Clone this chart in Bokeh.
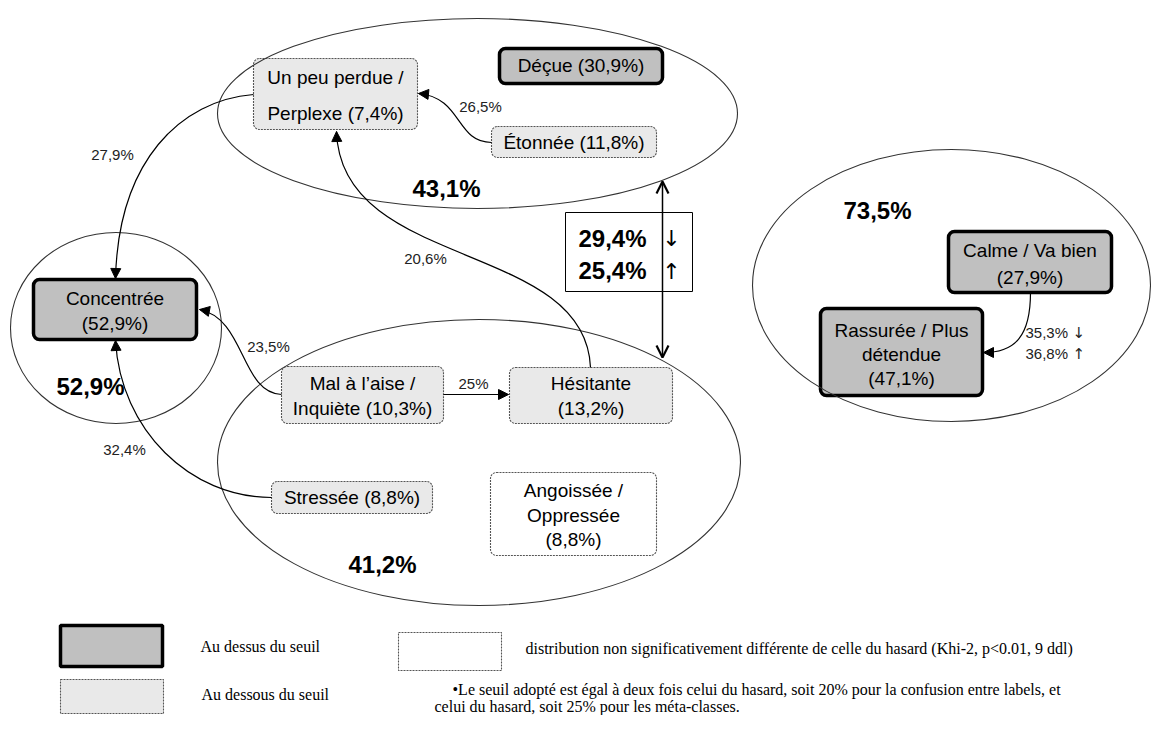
from bokeh.plotting import figure
from bokeh.models import Range1d, BoxAnnotation, Arrow, NormalHead, OpenHead
from bokeh.core.properties import value
from bokeh.embed import file_html
from bokeh.resources import INLINE

# ---------------- data ----------------
emotion_keys = ["perplexe", "decue", "etonnee", "concentree", "mal", "hesitante",
                "stressee", "angoissee", "calme", "rassuree"]
emotion_pct = [7.4, 30.9, 11.8, 52.9, 10.3, 13.2, 8.8, 8.8, 27.9, 47.1]
emotion_class = ["below", "above", "below", "above", "below", "below",
                 "below", "ns", "above", "above"]
emotion_lines = [
    ["Un peu perdue /", "Perplexe ({p})"],
    ["Déçue ({p})"],
    ["Étonnée ({p})"],
    ["Concentrée", "({p})"],
    ["Mal à l’aise /", "Inquiète ({p})"],
    ["Hésitante", "({p})"],
    ["Stressée ({p})"],
    ["Angoissée /", "Oppressée", "({p})"],
    ["Calme / Va bien", "({p})"],
    ["Rassurée / Plus", "détendue", "({p})"],
]

meta_keys = ["haut", "gauche", "bas", "droite"]
meta_pct = [43.1, 52.9, 41.2, 73.5]

trans_from = ["etonnee", "perplexe", "hesitante", "mal", "mal", "stressee"]
trans_to = ["perplexe", "concentree", "perplexe", "concentree", "hesitante", "concentree"]
trans_pct = [26.5, 27.9, 20.6, 23.5, 25.0, 32.4]

calme_rassuree_pct = [35.3, 36.8]      # down, up
meta_haut_bas_pct = [29.4, 25.4]       # down, up

legend_labels = ["Au  dessus du seuil", "Au dessous du seuil",
                 "distribution non significativement différente de celle du hasard (Khi-2, p<0.01, 9 ddl)"]
note_lines = ["•Le seuil adopté est égal à deux fois celui du hasard, soit 20% pour la confusion entre labels, et",
              "celui du hasard, soit  25% pour les méta-classes."]


def fmt(v):
    if abs(v - round(v)) < 1e-9:
        return "%d%%" % round(v)
    return ("%.1f" % v).replace(".", ",") + "%"


# ---------------- layout (page pixels) ----------------
box_lrtb = {
    "perplexe": (253, 417, 58, 129),
    "decue": (499, 662, 48, 83),
    "etonnee": (491, 656, 126, 157),
    "concentree": (33, 196, 279, 339),
    "mal": (281, 443, 366, 423),
    "hesitante": (509, 672, 367, 423),
    "stressee": (271, 432, 481, 513),
    "angoissee": (490, 656, 472, 555),
    "calme": (948, 1111, 231, 292),
    "rassuree": (820, 982, 308, 395),
}
line_y = {
    "perplexe": [77, 113],
    "decue": [65],
    "etonnee": [142],
    "concentree": [298, 323],
    "mal": [383, 408],
    "hesitante": [383, 408],
    "stressee": [497],
    "angoissee": [490, 515, 539],
    "calme": [250, 277],
    "rassuree": [330, 354, 378],
}
ellipse_geom = {
    "haut": (477, 113, 520, 190),
    "gauche": (115.5, 327.5, 211, 191),
    "bas": (478.5, 462, 523, 286),
    "droite": (951, 285, 398, 272),
}
meta_label_xy = {"haut": (446, 188), "gauche": (90, 386), "bas": (382, 564), "droite": (877, 210)}

curve_pts = [
    ((491, 142), (455, 142), (462, 97), (418, 93)),
    ((253, 94), (180, 100), (118, 160), (115, 278)),
    ((590, 367), (585, 240), (340, 270), (336, 131)),
    ((281, 394), (240, 392), (245, 318), (199, 309)),
    ((443, 394), (470, 394), (490, 394), (508, 394)),
    ((271, 497), (190, 497), (120, 430), (115, 340)),
]
trans_label_xy = [(480, 106), (112, 154), (425, 258), (268, 346), (473, 383), (124, 449)]
calme_curve = ((1030, 292), (1030, 335), (1015, 352), (983, 352))

W, H = 1152, 715
p = figure(width=W, height=H, output_backend="svg", toolbar_location=None,
           x_range=Range1d(0, W), y_range=Range1d(H, 0),
           min_border=0, min_border_left=0, min_border_right=0,
           min_border_top=0, min_border_bottom=0)
p.axis.visible = False
p.xgrid.visible = False
p.ygrid.visible = False
p.outline_line_color = None
p.background_fill_color = "white"
p.border_fill_color = "white"

SANS = value("Liberation Sans")
SERIF = value("Liberation Serif")
ARROWF = value("DejaVu Sans")

# meta-class ellipses
for k in meta_keys:
    cx, cy, w, h = ellipse_geom[k]
    p.ellipse(x=[cx], y=[cy], width=[w], height=[h], fill_alpha=0,
              line_color="#333333", line_width=1.1)

styles = {
    "above": dict(fill_color="#c0c0c0", line_color="black", line_width=3.5, line_dash="solid"),
    "below": dict(fill_color="#e9e9e9", line_color="#555555", line_width=1.1, line_dash="2 1"),
    "ns": dict(fill_color="white", line_color="#555555", line_width=1.1, line_dash="2 1"),
}


def box(l, r, t, b, radius, style):
    p.add_layout(BoxAnnotation(left=l, right=r, top=t, bottom=b, border_radius=radius,
                               fill_alpha=1, line_alpha=1, level="underlay", **style))


# emotion boxes + labels
for key, pct, cls, lines in zip(emotion_keys, emotion_pct, emotion_class, emotion_lines):
    l, r, t, b = box_lrtb[key]
    box(l, r, t, b, 6, styles[cls])
    cx = (l + r) / 2
    txt = [s.format(p=fmt(pct)) for s in lines]
    p.text(x=[cx] * len(txt), y=line_y[key], text=txt, text_font=SANS,
           text_font_size="19px", text_align="center", text_baseline="middle",
           text_color="black")

# meta-class percentages
for k, v in zip(meta_keys, meta_pct):
    x, y = meta_label_xy[k]
    p.text(x=[x], y=[y], text=[fmt(v)], text_font=SANS, text_font_size="24px",
           text_font_style="bold", text_align="center", text_baseline="middle",
           text_color="black")


def draw_curve(pts):
    (x0, y0), (x1, y1), (x2, y2), (x3, y3) = pts
    p.bezier(x0=[x0], y0=[y0], x1=[x3], y1=[y3], cx0=[x1], cy0=[y1], cx1=[x2], cy1=[y2],
             line_color="black", line_width=1.2)
    dx, dy = x3 - x2, y3 - y2
    n = (dx * dx + dy * dy) ** 0.5
    p.add_layout(Arrow(end=NormalHead(size=10, fill_color="black", line_color="black", line_width=1),
                       x_start=x3 - 4 * dx / n, y_start=y3 - 4 * dy / n, x_end=x3, y_end=y3,
                       line_alpha=0))


for pts, v, (lx, ly) in zip(curve_pts, trans_pct, trans_label_xy):
    draw_curve(pts)
    p.text(x=[lx], y=[ly], text=[fmt(v)], text_font=SANS, text_font_size="15px",
           text_align="center", text_baseline="middle", text_color="#222222")

# calme -> rassurée
draw_curve(calme_curve)
p.text(x=[1025, 1025], y=[332, 353],
       text=[fmt(calme_rassuree_pct[0]), fmt(calme_rassuree_pct[1])],
       text_font=SANS, text_font_size="15px", text_align="left", text_baseline="middle",
       text_color="#222222")
p.text(x=[1072, 1072], y=[332, 353], text=["↓", "↑"], text_font=ARROWF,
       text_font_size="15px", text_align="left", text_baseline="middle", text_color="#222222")

# between top and bottom meta-classes
p.add_layout(BoxAnnotation(left=565, right=692, top=212, bottom=291, fill_alpha=0,
                           line_color="black", line_alpha=1, line_width=1, level="underlay"))
p.add_layout(Arrow(start=OpenHead(size=12, line_width=2.2, line_color="black"),
                   end=OpenHead(size=12, line_width=2.2, line_color="black"),
                   x_start=662, y_start=181, x_end=662, y_end=357, line_width=1.5))
p.text(x=[612, 612], y=[238, 270], text=[fmt(v) for v in meta_haut_bas_pct],
       text_font=SANS, text_font_size="24px", text_font_style="bold",
       text_align="center", text_baseline="middle", text_color="black")
p.text(x=[671, 671], y=[238, 271], text=["↓", "↑"], text_font=ARROWF,
       text_font_size="22px", text_align="center", text_baseline="middle", text_color="black")

# legend
box(60, 162, 625, 666, 0, styles["above"])
box(60, 163, 679, 713, 0, styles["below"])
box(398, 501, 632, 670, 0, styles["ns"])
p.text(x=[200, 201, 525], y=[646, 694, 648], text=legend_labels, text_font=SERIF,
       text_font_size="16px", text_align="left", text_baseline="middle", text_color="black")
p.text(x=[452, 434], y=[689, 706], text=note_lines, text_font=SERIF,
       text_font_size="16px", text_align="left", text_baseline="middle", text_color="black")

open("out.html", "w").write(file_html(p, INLINE))
